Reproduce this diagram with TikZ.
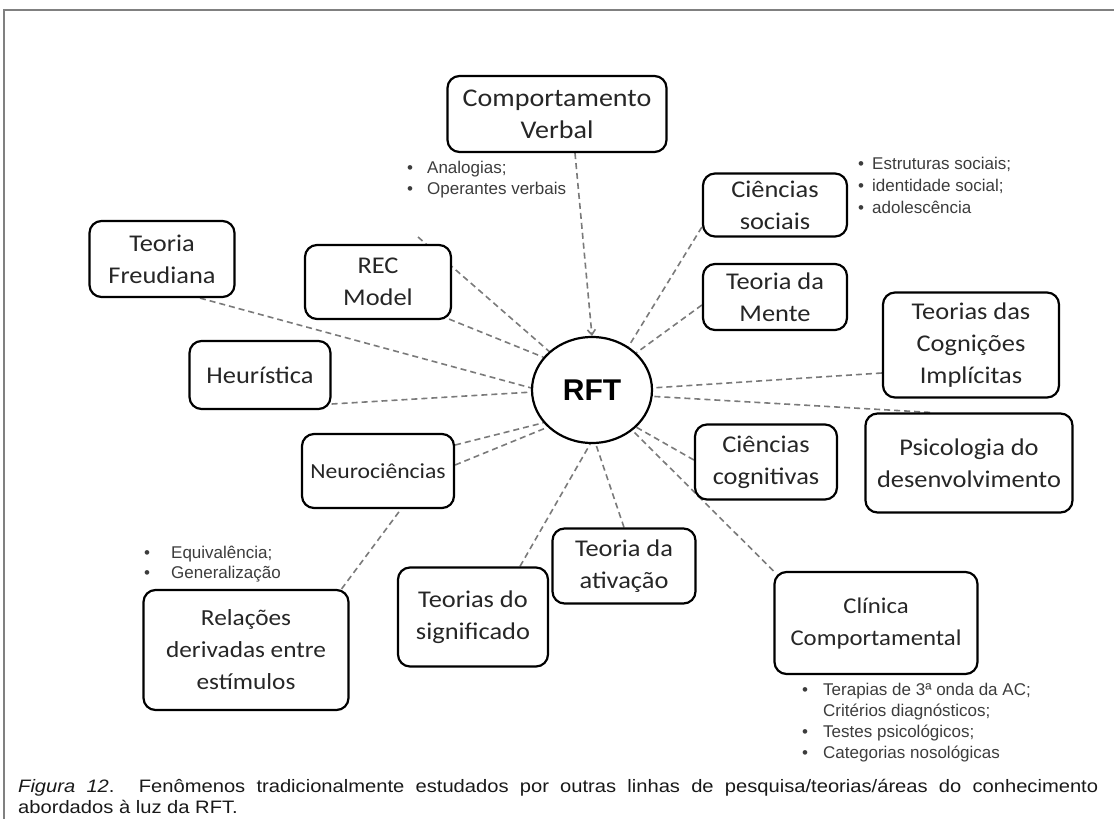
\documentclass[tikz,border=0pt]{standalone}
\usepackage{fontspec}
\usetikzlibrary{shapes.geometric,arrows.meta,backgrounds}
\newfontfamily\boxfont[FakeStretch=1.1]{Carlito}
\newfontfamily\arialfont{Liberation Sans}
\newfontfamily\capfont[FakeStretch=1.12]{Liberation Sans}
\definecolor{dashgray}{HTML}{7A7A7A}
\definecolor{txtgray}{HTML}{3C3C3C}
\definecolor{framegray}{HTML}{808080}
\tikzset{
  topic/.style={draw=black, line width=2.2pt, rounded corners=12pt, fill=white, align=center,
    inner sep=0pt, text=black!85, font=\boxfont\fontsize{24}{32}\selectfont},
  tsize/.style={font=\boxfont\fontsize{#1}{32}\selectfont},
  link/.style={draw=dashgray, line width=1.6pt, dash pattern=on 6pt off 4pt},
  bul/.style={anchor=base west, inner sep=0pt, text=txtgray, font=\arialfont\fontsize{17}{21}\selectfont},
  captxt/.style={anchor=base west, inner sep=0pt, text=black!90, font=\capfont\fontsize{18}{21}\selectfont},
}
\begin{document}
\begin{tikzpicture}[x=1pt,y=-1pt]
\useasboundingbox (0,0) rectangle (1114,819);
\draw[framegray, line width=1.5pt] (1114,10) -- (4,10) -- (4,819);

% central node
\node[ellipse, draw=black, line width=2.2pt, fill=white, minimum width=120pt, minimum height=106pt,
  inner sep=0pt, font=\arialfont\bfseries\fontsize{30}{30}\selectfont] (rft) at (592,390) {RFT};

% topic boxes
\node[topic, tsize=25.5, minimum width=219pt, minimum height=76pt] (cv) at (557,114) {Comportamento\\Verbal};
\node[topic, minimum width=144pt, minimum height=63pt] (cs) at (775,205) {Ciências\\sociais};
\node[topic, minimum width=144pt, minimum height=66pt] (tm) at (775,297) {Teoria da\\Mente};
\node[topic, minimum width=176pt, minimum height=105pt] (tci) at (971,345) {Teorias das\\Cognições\\Implícitas};
\node[topic, minimum width=142pt, minimum height=75pt] (cc) at (766,462) {Ciências\\cognitivas};
\node[topic, minimum width=207pt, minimum height=99pt] (pd) at (969,463) {Psicologia do\\desenvolvimento};
\node[topic, tsize=22.5, minimum width=203pt, minimum height=102pt] (clin) at (876,623) {Clínica\\Comportamental};
\node[topic, minimum width=143pt, minimum height=75pt] (ta) at (624,566) {Teoria da\\ativação};
\node[topic, minimum width=150pt, minimum height=99pt] (ts) at (473,617) {Teorias do\\significado};
\node[topic, tsize=23, minimum width=205pt, minimum height=120pt] (rd) at (246,650) {Relações\\derivadas entre\\estímulos};
\node[topic, tsize=21.5, minimum width=152pt, minimum height=74pt] (neu) at (378,471) {Neurociências};
\node[topic, minimum width=141pt, minimum height=68pt] (heu) at (260,375) {Heurística};
\node[topic, minimum width=145pt, minimum height=76pt] (tf) at (162,259) {Teoria\\Freudiana};
\node[topic, minimum width=146pt, minimum height=74pt] (rec) at (378,282) {REC\\Model};
\coordinate (recstub) at (418,237);

% connectors (behind the boxes)
\begin{pgfonlayer}{background}
\draw[link, -{Straight Barb[length=5pt,width=8pt]}] ([xshift=18pt]cv.south) -- (rft.north);
\draw[link] ([yshift=-22pt]cs.west) -- (rft.50);
\draw[link] ([yshift=-8pt]tm.west) -- (rft.40);
\draw[link] ([yshift=-28pt]tci.west) -- (rft.2);
\draw[link] ([xshift=-39pt]pd.north) -- (rft.-6);
\draw[link] ([yshift=2pt]cc.west) -- (rft.-40);
\draw[link] (clin.north west) -- (rft.-45);
\draw[link] (ta.north) -- (rft.-86);
\draw[link] ([xshift=47pt]ts.north) -- (rft.-92);
\draw[link] ([yshift=26pt]neu.east) -- (rft.-146);
\draw[link] ([yshift=6pt]neu.east) -- (rft.-140);
\draw[link] ([xshift=-8pt]rd.north east) -- ([xshift=23pt]neu.south);
\draw[link] ([yshift=-29pt]heu.east) -- (rft.182);
\draw[link] ([xshift=38pt]tf.south) -- (rft.178);
\draw[link] (recstub) -- (rft.138);
\draw[link] ([xshift=-3pt,yshift=1pt]rec.south east) -- (rft.146);
\end{pgfonlayer}

% bullet lists
\node[bul] (an1) at (407,173) {\makebox[20pt][l]{•}Analogias;};
\node[bul] (an2) at (407,194) {\makebox[20pt][l]{•}Operantes verbais};

\node[bul] (es1) at (858,169) {\makebox[14pt][l]{•}Estruturas sociais;};
\node[bul] (es2) at (858,191) {\makebox[14pt][l]{•}identidade social;};
\node[bul] (es3) at (858,213) {\makebox[14pt][l]{•}adolescência};

\node[bul] (eq1) at (144,558) {\makebox[27pt][l]{•}Equivalência;};
\node[bul] (eq2) at (144,578) {\makebox[27pt][l]{•}Generalização};

\node[bul] (cl1) at (802,695) {\makebox[21pt][l]{•}Terapias de 3ª onda da AC;};
\node[bul] (cl2) at (802,716) {\makebox[21pt][l]{}Critérios diagnósticos;};
\node[bul] (cl3) at (802,737) {\makebox[21pt][l]{•}Testes psicológicos;};
\node[bul] (cl4) at (802,758) {\makebox[21pt][l]{•}Categorias nosológicas};

% caption
\node[captxt] (cap1) at (18,792) {\makebox[1080pt][s]{\textit{Figura 12}. Fenômenos tradicionalmente estudados por outras linhas de pesquisa/teorias/áreas do conhecimento}};
\node[captxt] (cap2) at (18,813) {abordados à luz da RFT.};
\end{tikzpicture}
\end{document}
